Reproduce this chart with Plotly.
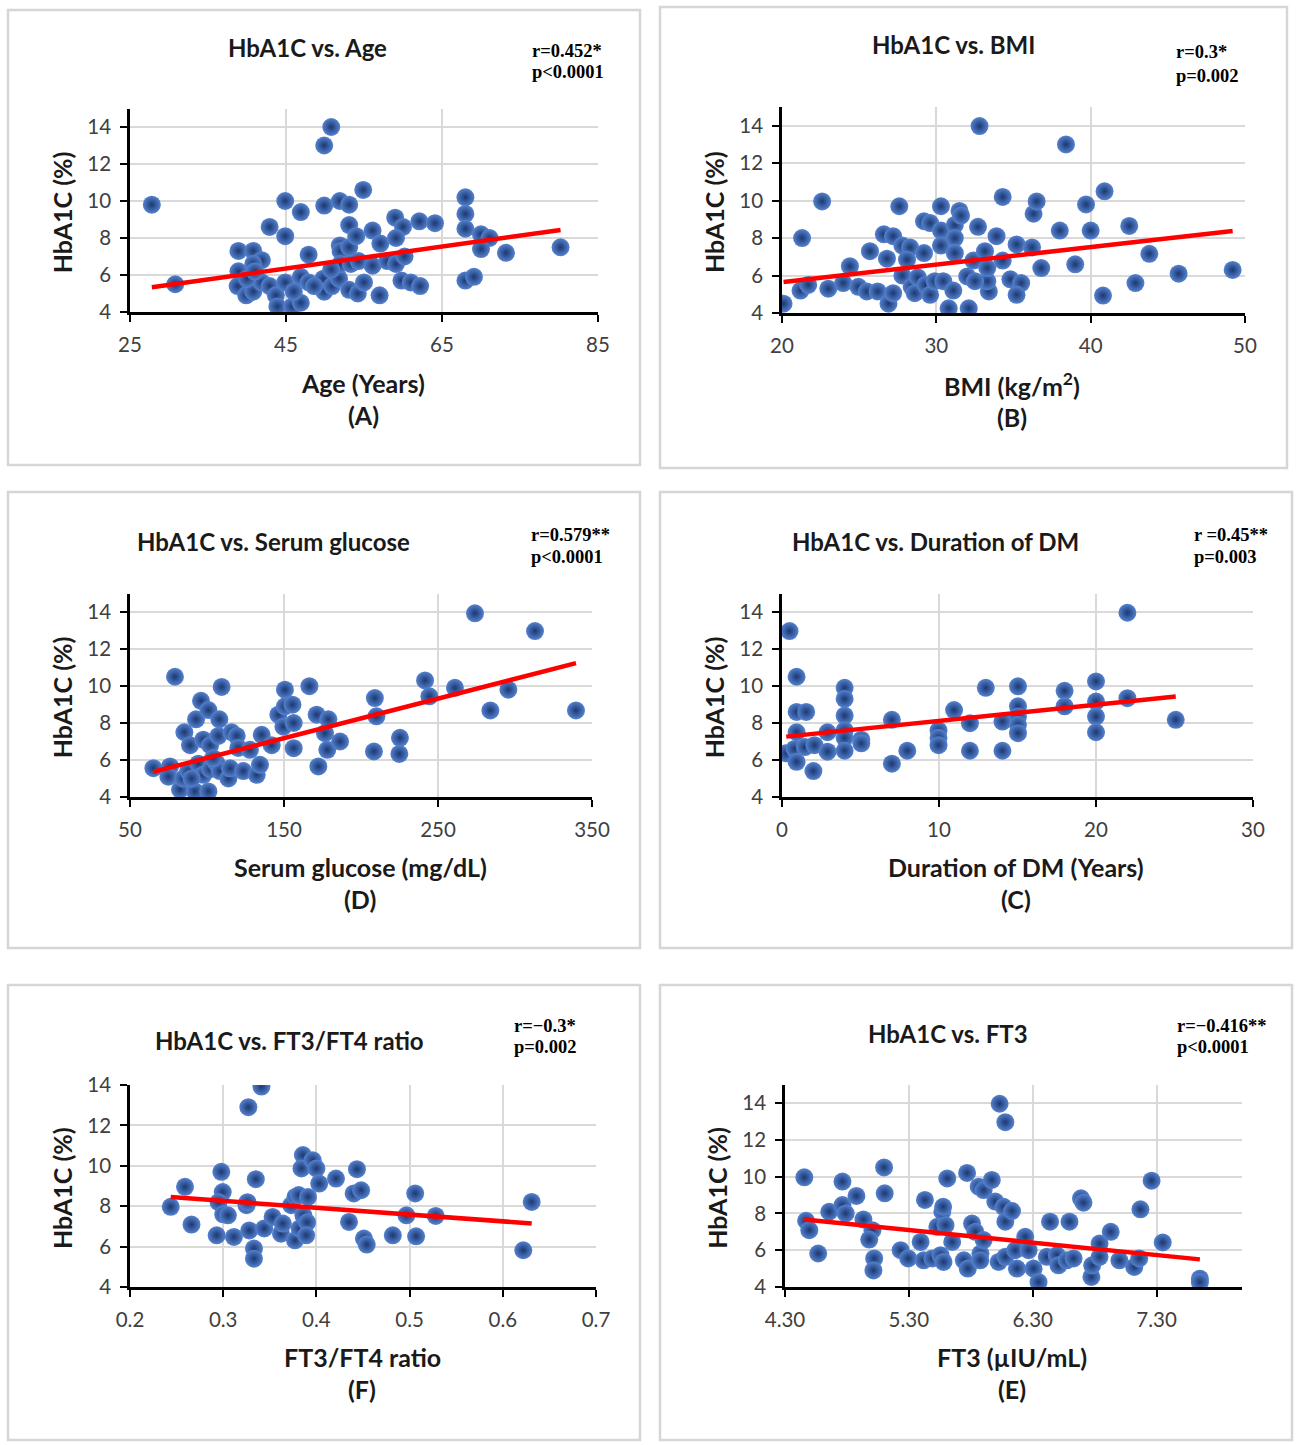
import numpy as np
import plotly.graph_objects as go

W, H = 1300, 1445

# ---- data: (x, HbA1C) pairs per panel ----
age_pts = [(27.8, 9.8), (30.8, 5.5), (50.8, 14.0), (49.9, 13.0), (54.9, 10.6), (44.9, 10.0),
           (46.9, 9.4), (49.9, 9.75), (51.9, 10.0), (53.1, 9.8), (42.9, 8.6), (44.9, 8.1),
           (38.9, 7.3), (40.8, 7.3), (41.9, 6.8), (40.8, 6.6), (38.9, 6.2), (38.8, 5.4),
           (39.9, 4.9), (40.8, 5.1), (41.9, 5.6), (42.9, 5.4), (43.7, 4.9), (43.9, 4.3),
           (44.9, 5.6), (45.8, 4.3), (46.9, 4.5), (46.9, 5.9), (46.0, 5.1), (47.9, 7.1),
           (47.9, 5.6), (49.8, 5.8), (49.9, 5.1), (50.9, 5.4), (51.8, 5.8), (51.9, 7.6),
           (52.0, 7.3), (53.1, 7.5), (53.1, 5.2), (54.2, 5.0), (55.0, 5.6), (53.1, 8.7),
           (54.0, 8.1), (56.1, 8.4), (57.1, 7.7), (52.0, 6.6), (53.3, 6.6), (54.3, 6.75),
           (56.1, 6.5), (57.0, 4.9), (58.0, 6.75), (59.0, 9.1), (60.0, 8.6), (59.1, 8.0),
           (59.1, 6.6), (60.2, 7.0), (59.8, 5.7), (61.0, 5.6), (62.2, 5.4), (62.1, 8.9),
           (64.1, 8.8), (68.0, 10.2), (68.0, 9.3), (68.0, 8.5), (70.0, 8.2), (71.1, 8.0),
           (70.0, 7.4), (73.2, 7.2), (80.2, 7.5), (68.0, 5.7), (69.1, 5.9), (50.8, 6.3),
           (40.0, 5.8), (41.0, 6.2), (48.6, 5.4)]

bmi_pts = [(20.1, 4.5), (21.3, 8.0), (21.2, 5.2), (21.7, 5.5), (22.6, 9.96), (23.0, 5.3),
           (23.97, 5.6), (24.4, 6.5), (24.95, 5.4), (25.5, 5.15), (25.7, 7.3), (26.2, 5.15),
           (26.6, 8.2), (27.2, 8.1), (26.8, 6.9), (26.9, 4.5), (27.2, 5.06), (27.6, 9.7),
           (27.8, 7.6), (28.3, 7.5), (28.1, 6.85), (27.8, 6.0), (28.4, 5.4), (28.6, 5.06),
           (29.2, 7.2), (29.2, 8.9), (29.6, 8.8), (28.8, 5.9), (29.3, 5.5), (29.6, 4.97),
           (29.9, 5.7), (30.3, 9.7), (30.3, 8.4), (30.3, 7.6), (31.2, 8.7), (31.5, 9.45),
           (31.6, 9.2), (31.2, 8.0), (31.2, 7.2), (30.45, 5.7), (30.8, 4.25), (31.1, 5.2),
           (32.0, 5.95), (32.1, 4.25), (32.4, 6.8), (32.7, 8.6), (32.8, 13.98), (33.15, 7.3),
           (33.4, 5.15), (33.3, 5.7), (32.5, 5.7), (33.3, 6.4), (33.9, 8.1), (34.3, 6.8),
           (34.3, 10.2), (34.8, 5.8), (35.2, 7.66), (35.5, 5.6), (35.2, 4.97), (36.2, 7.5),
           (36.3, 9.3), (36.5, 9.96), (36.8, 6.4), (38.0, 8.4), (38.4, 13.0), (39.0, 6.6),
           (39.7, 9.8), (40.0, 8.4), (40.8, 4.93), (40.9, 10.5), (42.5, 8.65), (42.9, 5.6),
           (43.8, 7.16), (45.7, 6.1), (49.2, 6.3)]

glucose_pts = [(65.2, 5.56), (76, 5.65), (74.9, 5.1), (79.2, 10.5), (82.5, 4.4), (84.6, 5.0),
               (85.3, 7.5), (89, 6.8), (92.9, 8.2), (96.1, 9.2), (100.9, 8.7), (108, 8.2),
               (97.6, 7.1), (102, 6.8), (107.4, 7.3), (92.2, 4.3), (100.9, 4.3), (87.9, 5.4),
               (94.4, 5.8), (97.6, 5.2), (102, 5.5), (106.3, 5.8), (108.4, 5.4), (113.9, 5.0),
               (115, 5.55), (109.5, 9.95), (116, 7.5), (119.3, 7.3), (120.3, 6.65), (123.6, 5.4),
               (127.9, 6.55), (132.3, 5.2), (134.4, 5.74), (135.5, 7.36), (142, 6.8), (146.3, 8.45),
               (149.6, 7.8), (150.6, 9.8), (150.6, 8.9), (155.5, 8.99), (156.3, 8.0), (156.3, 6.64),
               (166.5, 9.99), (171.2, 8.45), (172.3, 5.65), (176.6, 7.45), (178.8, 8.2),
               (178.1, 6.55), (186.4, 7.0), (209, 9.35), (210, 8.36), (208.4, 6.46), (225.3, 7.2),
               (224.9, 6.33), (241.6, 10.3), (244.4, 9.44), (261, 9.9), (274, 13.93), (284, 8.68),
               (295.7, 9.8), (313, 12.97), (339.6, 8.68), (90, 5.0), (104, 6.1)]

duration_pts = [(0.48, 12.97), (0.27, 6.36), (0.93, 10.5), (0.93, 8.6), (1.54, 8.6), (0.93, 7.5),
                (0.8, 6.6), (0.93, 5.9), (1.46, 6.7), (2.07, 6.8), (2.0, 5.4), (2.9, 7.5),
                (2.9, 6.45), (3.99, 9.9), (3.99, 9.3), (3.99, 8.4), (3.99, 7.6), (3.99, 7.2),
                (3.99, 6.5), (5.05, 7.1), (5.05, 6.9), (7.0, 8.17), (7.0, 5.8), (7.98, 6.5),
                (9.97, 7.6), (9.97, 7.2), (9.97, 6.8), (10.96, 8.7), (11.97, 7.99), (11.97, 6.5),
                (12.98, 9.9), (14.04, 8.08), (14.04, 6.5), (15.03, 9.98), (15.03, 8.9),
                (15.03, 8.35), (15.03, 7.9), (15.03, 7.45), (18.0, 9.74), (18.0, 8.9),
                (20.0, 10.25), (20.0, 9.16), (20.0, 8.35), (20.0, 7.5), (22.0, 13.96),
                (22.0, 9.34), (25.08, 8.17)]

ratio_pts = [(0.2437, 7.97), (0.259, 8.96), (0.266, 7.09), (0.293, 6.56), (0.298, 9.7),
             (0.2995, 8.7), (0.295, 8.2), (0.3, 7.6), (0.305, 7.55), (0.3115, 6.48),
             (0.325, 8.05), (0.326, 8.2), (0.327, 12.9), (0.328, 6.8), (0.333, 5.9),
             (0.333, 5.4), (0.335, 9.34), (0.341, 13.92), (0.344, 6.9), (0.353, 7.47),
             (0.362, 6.64), (0.364, 7.14), (0.373, 8.05), (0.3775, 8.46), (0.381, 8.55),
             (0.377, 6.31), (0.382, 6.9), (0.3855, 10.53), (0.384, 9.87), (0.386, 7.55),
             (0.391, 8.46), (0.39, 7.2), (0.389, 6.56), (0.396, 10.28), (0.4, 9.87),
             (0.403, 9.12), (0.421, 9.37), (0.435, 7.22), (0.44, 8.63), (0.4435, 9.83),
             (0.448, 8.79), (0.451, 6.4), (0.454, 6.1), (0.482, 6.56), (0.4966, 7.55),
             (0.506, 8.63), (0.507, 6.51), (0.528, 7.52), (0.622, 5.82), (0.631, 8.21)]

ft3_pts = [(4.456, 9.96), (4.47, 7.6), (4.496, 7.09), (4.568, 5.82), (4.657, 8.09), (4.764, 9.73),
           (4.764, 8.45), (4.79, 8.0), (4.877, 8.95), (4.933, 7.67), (5.006, 7.09), (4.98, 6.58),
           (5.02, 5.55), (5.014, 4.9), (5.1, 10.5), (5.105, 9.09), (5.234, 6.0), (5.295, 5.55),
           (5.395, 6.45), (5.43, 8.73), (5.42, 5.45), (5.49, 5.55), (5.53, 7.27), (5.556, 5.73),
           (5.57, 8.09), (5.577, 8.36), (5.58, 5.36), (5.596, 7.36), (5.61, 9.9), (5.65, 6.45),
           (5.744, 5.45), (5.77, 10.2), (5.776, 5.0), (5.81, 7.45), (5.837, 7.0), (5.864, 9.45),
           (5.878, 5.82), (5.904, 9.27), (5.877, 5.45), (5.904, 6.55), (5.97, 9.82), (5.998, 8.64),
           (6.033, 13.96), (6.025, 5.36), (6.065, 8.36), (6.079, 12.96), (6.079, 7.55),
           (6.079, 5.64), (6.133, 8.13), (6.16, 6.0), (6.173, 5.0), (6.24, 6.73), (6.267, 6.0),
           (6.307, 5.0), (6.347, 4.27), (6.44, 7.55), (6.414, 5.64), (6.495, 5.73), (6.508, 5.18),
           (6.597, 7.55), (6.575, 5.45), (6.63, 5.55), (6.69, 8.82), (6.71, 8.58), (6.774, 4.55),
           (6.78, 5.18), (6.84, 6.36), (6.84, 5.64), (6.93, 7.0), (7.0, 5.45), (7.12, 5.09),
           (7.16, 5.55), (7.17, 8.22), (7.26, 9.78), (7.35, 6.42), (7.65, 4.45), (7.65, 4.27)]

# trend lines (slope, intercept)
trends = {
    "A": (0.0592, 3.69),
    "B": (0.0935, 3.78),
    "D": (0.0214, 3.97),
    "C": (0.0875, 7.24),
    "F": (-3.375, 9.275),
    "E": (-0.677, 10.68),
}

panels = [
    dict(key="A", pts=age_pts, title="HbA1C vs. Age", r="r=0.452*", p="p<0.0001",
         xlabel="Age (Years)", xrange=[25, 85], tickvals=[25, 45, 65, 85], fmt="d", ytop=15,
         box=(8, 10, 640, 465), plot=(130, 598, 108.5, 312), tpos=(307, 48), rpos=(530, 51, 72),
         lpos=(363, 383)),
    dict(key="B", pts=bmi_pts, title="HbA1C vs. BMI", r="r=0.3*", p="p=0.002",
         xlabel="BMI (kg/m<sup>2</sup>)", xrange=[20, 50], tickvals=[20, 30, 40, 50], fmt="d", ytop=15,
         box=(660, 7, 1287, 468), plot=(782, 1245, 107, 313), tpos=(953, 44), rpos=(1174, 52, 76),
         lpos=(1012, 385)),
    dict(key="D", pts=glucose_pts, title="HbA1C vs. Serum glucose", r="r=0.579**", p="p<0.0001",
         xlabel="Serum glucose (mg/dL)", xrange=[50, 350], tickvals=[50, 150, 250, 350], fmt="d", ytop=15,
         box=(8, 492, 640, 948), plot=(130, 592, 593.5, 797), tpos=(273, 541), rpos=(529, 535, 557),
         lpos=(360, 867)),
    dict(key="C", pts=duration_pts, title="HbA1C vs. Duration of DM", r="r =0.45**", p="p=0.003",
         xlabel="Duration of DM (Years)", xrange=[0, 30], tickvals=[0, 10, 20, 30], fmt="d", ytop=15,
         box=(660, 492, 1292, 948), plot=(782, 1253, 593.5, 797), tpos=(935, 541), rpos=(1192, 535, 557),
         lpos=(1016, 867)),
    dict(key="F", pts=ratio_pts, title="HbA1C vs. FT3/FT4 ratio", r="r=\u22120.3*", p="p=0.002",
         xlabel="FT3/FT4 ratio", xrange=[0.2, 0.7], tickvals=[0.2, 0.3, 0.4, 0.5, 0.6, 0.7], fmt=".1f",
         ytop=14, box=(8, 985, 640, 1440), plot=(130, 596, 1085, 1287), tpos=(289, 1040),
         rpos=(512, 1026, 1047), lpos=(362, 1357)),
    dict(key="E", pts=ft3_pts, title="HbA1C vs. FT3", r="r=\u22120.416**", p="p<0.0001",
         xlabel="FT3 (\u00b5IU/mL)", xrange=[4.3, 7.99], tickvals=[4.3, 5.3, 6.3, 7.3], fmt=".2f",
         ytop=15, box=(660, 985, 1292, 1440), plot=(785, 1242, 1084.6, 1287), tpos=(948, 1033),
         rpos=(1175, 1026, 1047), lpos=(1012, 1357)),
]

SANS = "Lato, Carlito, Calibri, sans-serif"
SERIF = "Liberation Serif, Times New Roman, serif"


def px(x):
    return x / W


def py(y):
    return 1 - y / H


def label(text, x, y, size, family=SANS, xanchor="center", angle=0, color="#1a1a1a"):
    return dict(text=text, x=px(x), y=py(y), xref="paper", yref="paper", showarrow=False,
                xanchor=xanchor, yanchor="middle", textangle=angle,
                font=dict(family=family, size=size, color=color))


fig = go.Figure()
layout = {}
annotations = []
shapes = []

for i, pnl in enumerate(panels, start=1):
    sfx = "" if i == 1 else str(i)
    xs = np.array([a for a, b in pnl["pts"]])
    ys = np.array([b for a, b in pnl["pts"]])
    slope, icpt = trends[pnl["key"]]
    lx = np.array([xs.min(), xs.max()])
    ly = slope * lx + icpt

    fig.add_trace(go.Scatter(
        x=xs, y=ys, mode="markers", xaxis="x" + sfx, yaxis="y" + sfx, showlegend=False,
        marker=dict(size=18, color="#5582cf", line=dict(width=0),
                    gradient=dict(type="radial", color="#1b3872")),
    ))
    fig.add_trace(go.Scatter(
        x=lx, y=ly, mode="lines", xaxis="x" + sfx, yaxis="y" + sfx, showlegend=False,
        line=dict(color="#ff0000", width=4.5),
    ))

    x0, x1, yt, yb = pnl["plot"]
    axis_common = dict(
        showgrid=True, gridcolor="#d9d9d9", gridwidth=2, zeroline=False,
        showline=True, linecolor="black", linewidth=2.5, automargin=False,
        ticks="outside", ticklen=7, tickwidth=2, tickcolor="black",
        tickfont=dict(family=SANS, size=20.5, color="#404040"),
    )
    layout["xaxis" + sfx] = dict(
        domain=[px(x0), px(x1)], anchor="y" + sfx, range=pnl["xrange"],
        tickvals=pnl["tickvals"], tickformat=pnl["fmt"], ticklabelstandoff=6,
        **axis_common,
    )
    layout["yaxis" + sfx] = dict(
        domain=[py(yb), py(yt)], anchor="x" + sfx, range=[4, pnl["ytop"]],
        tickvals=[4, 6, 8, 10, 12, 14], ticklabelstandoff=5,
        **axis_common,
    )

    bx0, by0, bx1, by1 = pnl["box"]
    shapes.append(dict(type="rect", xref="paper", yref="paper",
                       x0=px(bx0), x1=px(bx1), y0=py(by1), y1=py(by0),
                       line=dict(color="#d6d6d6", width=2.5), layer="below"))

    tx, ty = pnl["tpos"]
    annotations.append(label("<b>" + pnl["title"] + "</b>", tx, ty, 24))
    rx, ry, pyy = pnl["rpos"]
    annotations.append(label("<b>" + pnl["r"] + "</b>", rx, ry, 18.5, SERIF, "left", color="black"))
    annotations.append(label("<b>" + pnl["p"] + "</b>", rx, pyy, 18.5, SERIF, "left", color="black"))
    lx_, ly_ = pnl["lpos"]
    annotations.append(label("<b>" + pnl["xlabel"] + "</b>", lx_, ly_, 25))
    annotations.append(label("<b>(" + pnl["key"] + ")</b>", lx_, ly_ + 32, 25))
    annotations.append(label("<b>HbA1C (%)</b>", x0 - 68, (yt + yb) / 2 + 2, 25, angle=-90))

fig.update_layout(
    width=W, height=H,
    margin=dict(l=0, r=0, t=0, b=0),
    paper_bgcolor="white", plot_bgcolor="white",
    annotations=annotations, shapes=shapes,
    **layout,
)

fig.write_html("out.html", config={"displayModeBar": False},
               post_script="document.body.style.margin='0';")
